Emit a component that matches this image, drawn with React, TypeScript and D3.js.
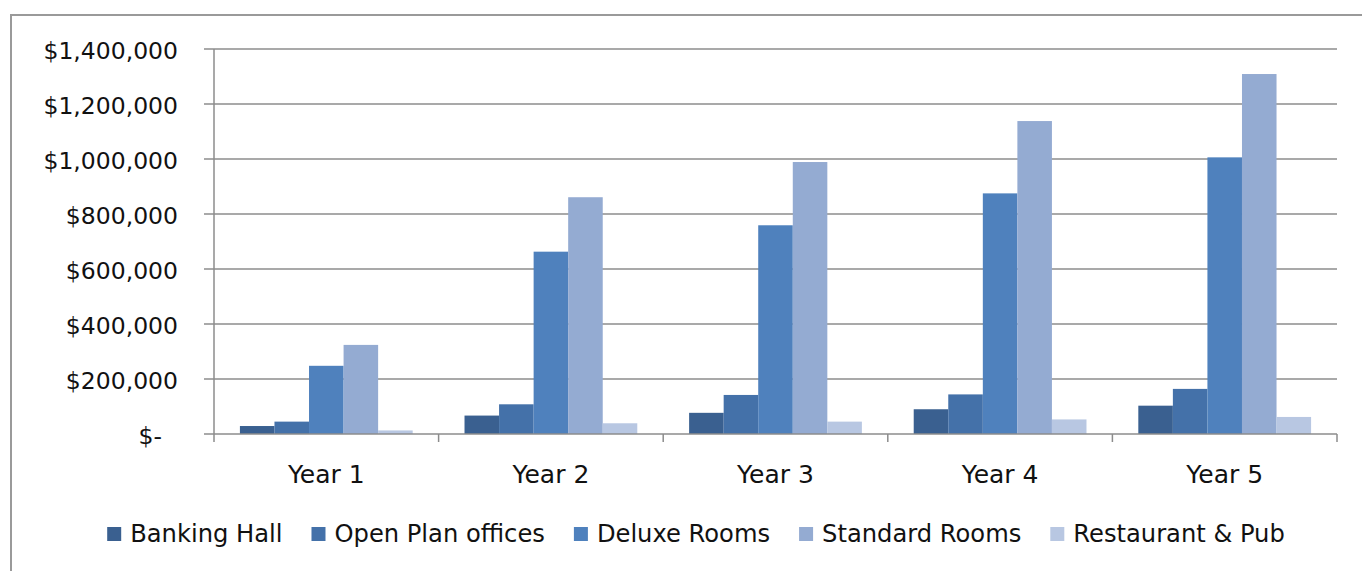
import React, { useEffect, useRef } from "react";
import * as d3 from "d3";

const categories = ["Year 1", "Year 2", "Year 3", "Year 4", "Year 5"];
const seriesNames = ["Banking Hall", "Open Plan offices", "Deluxe Rooms", "Standard Rooms", "Restaurant & Pub"];
const bankingHall = [29000, 67000, 77000, 90000, 103000];
const openPlanOffices = [45000, 108000, 142000, 144000, 164000];
const deluxeRooms = [248000, 663000, 759000, 875000, 1006000];
const standardRooms = [324000, 861000, 989000, 1138000, 1309000];
const restaurantPub = [13000, 39000, 45000, 53000, 62000];
const yTicks = [0, 200000, 400000, 600000, 800000, 1000000, 1200000, 1400000];
const colors = ["#3A6090", "#4471A9", "#4F81BD", "#94ABD2", "#B8C7E2"];

const W = 1362;
const H = 571;
const FONT = "'DejaVu Sans', Verdana, sans-serif";

export default function App() {
  const ref = useRef<SVGSVGElement | null>(null);

  useEffect(() => {
    const svg = d3.select(ref.current);
    svg.selectAll("*").remove();

    const seriesValues = [bankingHall, openPlanOffices, deluxeRooms, standardRooms, restaurantPub];
    const left = 214, right = 1337, top = 49, bottom = 434;

    // frame
    svg.append("rect")
      .attr("x", 11).attr("y", 15)
      .attr("width", 1400).attr("height", 600)
      .attr("fill", "#fff").attr("stroke", "#9a9a9a").attr("stroke-width", 2);

    const x0 = d3.scaleBand<string>().domain(categories).range([left, right]).padding(0);
    const bw = x0.bandwidth();
    const barW = bw / 6.5;
    const x1 = d3.scaleBand<string>().domain(seriesNames).range([0.75 * barW, bw - 0.75 * barW]).padding(0);
    const y = d3.scaleLinear().domain([0, 1400000]).range([bottom, top]);

    const fmt = (v: number) => (v === 0 ? "$-" : "$" + d3.format(",")(v));

    // gridlines
    svg.append("g").selectAll("line").data(yTicks.filter(v => v > 0)).join("line")
      .attr("x1", left).attr("x2", right)
      .attr("y1", d => y(d)).attr("y2", d => y(d))
      .attr("stroke", "#8c8c8c").attr("stroke-width", 1.5);

    // y axis
    const ya = svg.append("g");
    ya.append("line").attr("x1", left).attr("x2", left).attr("y1", top).attr("y2", bottom)
      .attr("stroke", "#8c8c8c").attr("stroke-width", 1.5);
    ya.selectAll("line.t").data(yTicks).join("line").attr("class", "t")
      .attr("x1", left - 10).attr("x2", left)
      .attr("y1", d => y(d)).attr("y2", d => y(d))
      .attr("stroke", "#8c8c8c").attr("stroke-width", 1.5);
    ya.selectAll("text").data(yTicks).join("text")
      .attr("x", d => (d === 0 ? 162 : 178))
      .attr("y", d => y(d) + 9.5)
      .attr("text-anchor", "end")
      .attr("font-family", FONT).attr("font-size", 23.5).attr("fill", "#111")
      .text(d => fmt(d));

    // bars
    const g = svg.append("g");
    seriesNames.forEach((s, si) => {
      g.append("g").selectAll("rect").data(seriesValues[si]).join("rect")
        .attr("x", (_, i) => (x0(categories[i]) as number) + (x1(s) as number))
        .attr("width", x1.bandwidth())
        .attr("y", d => y(d))
        .attr("height", d => bottom - y(d))
        .attr("fill", colors[si]);
    });

    // x axis
    const xa = svg.append("g");
    xa.append("line").attr("x1", left).attr("x2", right).attr("y1", bottom).attr("y2", bottom)
      .attr("stroke", "#8c8c8c").attr("stroke-width", 1.5);
    const bounds = categories.map(c => x0(c) as number).concat([right]);
    xa.selectAll("line.t").data(bounds).join("line").attr("class", "t")
      .attr("x1", d => d).attr("x2", d => d).attr("y1", bottom).attr("y2", bottom + 8)
      .attr("stroke", "#8c8c8c").attr("stroke-width", 1.5);
    xa.selectAll("text").data(categories).join("text")
      .attr("x", d => (x0(d) as number) + bw / 2)
      .attr("y", 483)
      .attr("text-anchor", "middle")
      .attr("font-family", FONT).attr("font-size", 25).attr("fill", "#111")
      .text(d => d);

    // legend
    const lg = svg.append("g");
    const items = seriesNames.map((s, i) => {
      const it = lg.append("g");
      it.append("rect").attr("width", 14).attr("height", 14).attr("y", 527).attr("fill", colors[i]);
      const t = it.append("text").attr("x", 23).attr("y", 542)
        .attr("font-family", FONT).attr("font-size", 24.2).attr("fill", "#111").text(s);
      const w = (t.node() as SVGTextElement).getComputedTextLength();
      return { it, w: 23 + w };
    });
    const gap = 29;
    const total = d3.sum(items, d => d.w) + gap * (items.length - 1);
    let cx = 696 - total / 2;
    items.forEach(d => {
      d.it.attr("transform", `translate(${cx},0)`);
      cx += d.w + gap;
    });
  }, []);

  return (
    <svg ref={ref} width={W} height={H}
      style={{ position: "absolute", left: 0, top: 0, background: "#fff" }} />
  );
}
